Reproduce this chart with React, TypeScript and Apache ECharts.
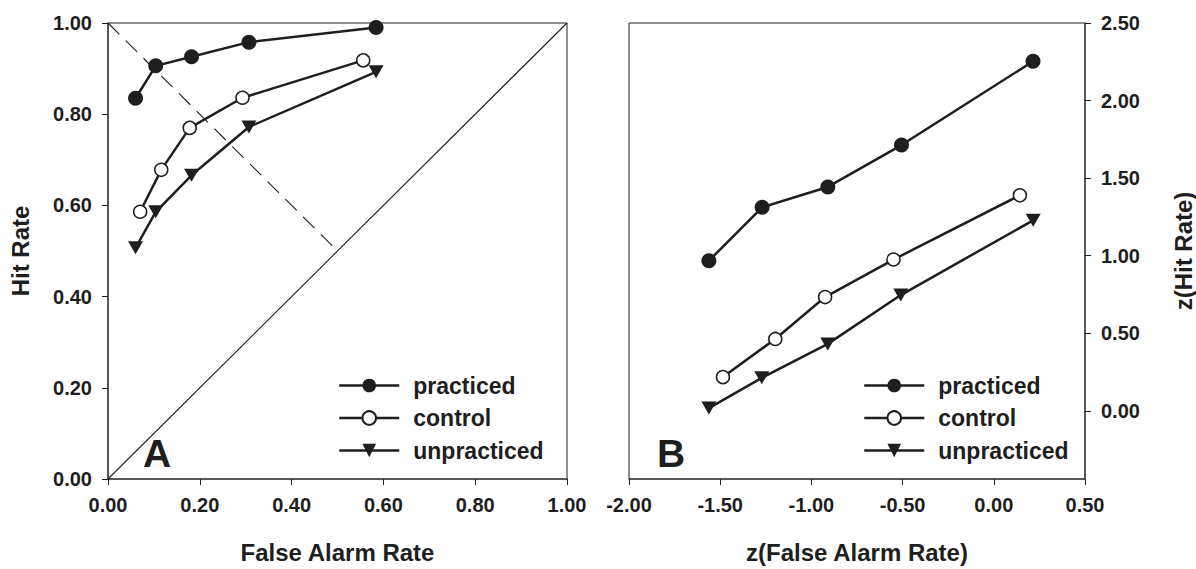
import React, { useEffect, useRef } from "react";
import * as echarts from "echarts";

// Panel A: ROC (hit rate vs false alarm rate)
const faPracticed = [0.060, 0.104, 0.182, 0.307, 0.584];
const hitPracticed = [0.835, 0.906, 0.926, 0.958, 0.990];
const faControl = [0.070, 0.116, 0.178, 0.293, 0.556];
const hitControl = [0.586, 0.678, 0.770, 0.836, 0.918];
const faUnpracticed = [0.060, 0.104, 0.182, 0.307, 0.584];
const hitUnpracticed = [0.507, 0.586, 0.666, 0.772, 0.893];

// Panel B: z-transformed
const zFaPracticed = [-1.562, -1.270, -0.910, -0.506, 0.215];
const zHitPracticed = [0.967, 1.312, 1.443, 1.713, 2.253];
const zFaControl = [-1.485, -1.198, -0.925, -0.550, 0.143];
const zHitControl = [0.217, 0.463, 0.733, 0.975, 1.389];
const zFaUnpracticed = [-1.562, -1.272, -0.910, -0.510, 0.216];
const zHitUnpracticed = [0.017, 0.212, 0.431, 0.746, 1.228];

// Reference lines in panel A
const chanceLine = [[0, 0], [1, 1]];
const negDiagonal = [[0, 1], [0.5, 0.5]];

const seriesNames = ["practiced", "control", "unpracticed"];
const zHitTicks = [0, 0.5, 1, 1.5, 2, 2.5];

const FONT = '"Liberation Sans", Arial, Helvetica, sans-serif';
const INK = "#1e1e1e";

const zip = (xs: number[], ys: number[]) => xs.map((x, i) => [x, ys[i]]);

export default function App() {
  const ref = useRef<HTMLDivElement>(null);
  useEffect(() => {
    if (!ref.current) return;
    const chart = echarts.init(ref.current, null, { renderer: "svg" });

    const labelStyle = { fontSize: 20, fontWeight: "bold", color: INK, fontFamily: FONT };
    const nameStyle = { fontSize: 24, fontWeight: "bold", color: INK, fontFamily: FONT };
    const axisLine = { onZero: false, lineStyle: { color: "#444", width: 1.5 } };
    const axisTick = { length: 6, lineStyle: { color: INK, width: 1 } };
    const fmt = (v: number) => v.toFixed(2);

    const mk = (name: string, data: number[][], axis: number, kind: string) => {
      const base: any = {
        name,
        type: "line",
        xAxisIndex: axis,
        yAxisIndex: axis,
        data,
        lineStyle: { color: INK, width: 2.5 },
        z: 5,
      };
      if (kind === "filled") {
        base.symbol = "circle";
        base.symbolSize = 15;
        base.itemStyle = { color: INK, borderColor: INK, borderWidth: 0 };
      } else if (kind === "open") {
        base.symbol = "circle";
        base.symbolSize = 13;
        base.itemStyle = { color: "#fff", borderColor: INK, borderWidth: 1.5 };
      } else {
        base.symbol = "triangle";
        base.symbolRotate = 180;
        base.symbolSize = [15, 13];
        base.itemStyle = { color: INK, borderColor: INK, borderWidth: 0 };
      }
      return base;
    };

    const legendBase = (left: number) => ({
      data: seriesNames,
      orient: "vertical",
      left,
      top: 374,
      itemWidth: 60,
      itemHeight: 17,
      itemGap: 9.5,
      padding: 0,
      selectedMode: false,
      lineStyle: { width: 2.5, color: INK },
      textStyle: { fontSize: 23, fontWeight: "bold", color: INK, fontFamily: FONT, padding: [0, 0, 0, 9] },
    });

    chart.setOption({
      animation: false,
      textStyle: { fontFamily: FONT },
      grid: [
        { left: 108, top: 23, width: 459, height: 457.5, show: true, borderColor: INK, borderWidth: 1 },
        { left: 629, top: 23, width: 458, height: 457.5, show: true, borderColor: INK, borderWidth: 1 },
      ],
      xAxis: [
        {
          gridIndex: 0, type: "value", min: 0, max: 1, interval: 0.2,
          axisLine, axisTick, splitLine: { show: false },
          axisLabel: { ...labelStyle, formatter: fmt, margin: 16 },
          name: "False Alarm Rate", nameLocation: "middle", nameGap: 61, nameTextStyle: nameStyle,
        },
        {
          gridIndex: 1, type: "value", min: -2, max: 0.5, interval: 0.5,
          axisLine, axisTick, splitLine: { show: false },
          axisLabel: { ...labelStyle, formatter: fmt, margin: 16 },
          name: "z(False Alarm Rate)", nameLocation: "middle", nameGap: 61, nameTextStyle: nameStyle,
        },
      ],
      yAxis: [
        {
          gridIndex: 0, type: "value", min: 0, max: 1, interval: 0.2, position: "left",
          axisLine, axisTick, splitLine: { show: false },
          axisLabel: { ...labelStyle, formatter: fmt, margin: 16 },
          name: "Hit Rate", nameLocation: "middle", nameGap: 76, nameRotate: 90, nameTextStyle: nameStyle,
          nameMoveOverlap: false,
        },
        {
          gridIndex: 1, type: "value", min: -0.44, max: 2.5, position: "right",
          axisLine, splitLine: { show: false },
          axisTick: { ...axisTick, customValues: zHitTicks },
          axisLabel: { ...labelStyle, formatter: fmt, margin: 16, customValues: zHitTicks },
          name: "z(Hit Rate)", nameLocation: "middle", nameGap: 86, nameRotate: 90, nameTextStyle: nameStyle,
          nameMoveOverlap: false,
        },
      ],
      legend: [legendBase(338), legendBase(863)],
      graphic: [
        { type: "text", left: 143, top: 434, style: { text: "A", fontSize: 39, fontWeight: "bold", fill: INK, fontFamily: FONT } },
        { type: "text", left: 657, top: 434, style: { text: "B", fontSize: 39, fontWeight: "bold", fill: INK, fontFamily: FONT } },
      ],
      series: [
        {
          name: "chance", type: "line", xAxisIndex: 0, yAxisIndex: 0, data: chanceLine,
          symbol: "none", silent: true, lineStyle: { color: INK, width: 1.1 }, z: 2,
        },
        {
          name: "diagonal", type: "line", xAxisIndex: 0, yAxisIndex: 0, data: negDiagonal,
          symbol: "none", silent: true, lineStyle: { color: INK, width: 1.1, type: [16, 9] }, z: 2,
        },
        mk("practiced", zip(faPracticed, hitPracticed), 0, "filled"),
        mk("control", zip(faControl, hitControl), 0, "open"),
        mk("unpracticed", zip(faUnpracticed, hitUnpracticed), 0, "tri"),
        mk("practiced", zip(zFaPracticed, zHitPracticed), 1, "filled"),
        mk("control", zip(zFaControl, zHitControl), 1, "open"),
        mk("unpracticed", zip(zFaUnpracticed, zHitUnpracticed), 1, "tri"),
      ],
    });
    return () => chart.dispose();
  }, []);
  return (
    <div
      ref={ref}
      style={{ position: "fixed", left: 0, top: 0, width: 1196, height: 569, background: "#fff" }}
    />
  );
}
